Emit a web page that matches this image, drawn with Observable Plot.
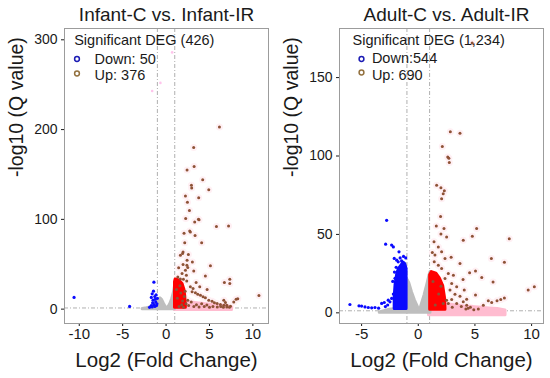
<!DOCTYPE html>
<html>
<head>
<meta charset="utf-8">
<script src="https://cdn.jsdelivr.net/npm/d3@7"></script>
<script src="https://cdn.jsdelivr.net/npm/@observablehq/plot@0.6"></script>
<style>
  body { margin: 0; background: #fff; }
  #chart { display: flex; width: 550px; height: 378px; }
</style>
</head>
<body>
<div id="chart"></div>
<script>
// ---------- DATA ----------
const titles = ["Infant-C vs. Infant-IR", "Adult-C vs. Adult-IR"];
const xLabel = "Log2 (Fold Change)";
const yLabel = "-log10 (Q value)";
const legendTitles = ["Significant DEG (426)", "Significant DEG (1,234)"];
const legendDown = ["Down: 50", "Down:544"];
const legendUp = ["Up: 376", "Up: 690"];
const fcCut = [-1, 1];
const qCut = [1.3];
const infXTicks = [-10, -5, 0, 5, 10];
const infYTicks = [0, 100, 200, 300];
const adXTicks = [-5, 0, 5, 10];
const adYTicks = [0, 50, 100, 150];

// Infant: up-regulated scattered genes [log2FC, -log10Q]
const infUp = [[6.15,203],[3.18,180],[3.23,159],[2.42,155],[4.22,144],[2.92,138],[2.95,135],[4.92,133],
  [2.23,126],[3.76,124],[2.46,119],[2.69,110],[2.26,101],[3.73,100],[3.3,97],[3.8,99.7],[5.8,92],[7.2,92.7],
  [2.8,86],[2.72,87],[2.07,84.5],[3.34,82],[4.1,74],[2.15,74],[1.96,63.7],[1.65,60],[2.57,60.8],[1.9,62],
  [2.42,54.5],[3.03,52.6],[5.11,48.2],[1.96,49.7],[2.4,49],[2.5,46.5],[1.45,46],[2.23,43.4],[3.19,42.6],
  [1.84,39.7],[2.34,37.8],[4.53,37],[1.35,35.7],[1.65,33.7],[2.0,33.2],[2.38,31.3],[3.46,29.7],[6.72,29.7],
  [7.34,33.4],[7.34,28.6],[3.88,24.8],[4.73,21.9],[3.11,23],[3.0,19.3],[3.38,18.2],[3.65,16.7],[3.96,15.6],
  [4.26,13.7],[4.53,12.6],[4.92,10],[5.3,8.9],[5.57,7],[5.88,6.3],[6.26,5.2],[6.65,4.4],[7.0,4.4],[7.42,3.3],
  [10.7,15.2],[8.07,11.1],[8.26,11.5],[7.8,8],[6.65,10],[6.84,7.4],
  [1.5,3],[1.8,5],[2.0,2],[2.3,6],[2.6,4],[2.9,8],[3.2,3],[3.5,5],[3.8,2.5],[4.1,6],[4.4,3],[4.7,4.5],
  [5.0,2],[5.4,3],[5.9,2.5],[6.3,3],[6.6,2],[7.0,2.5],[7.3,2],[1.3,12],[1.7,18],[2.1,14],[2.5,10],[2.8,25],
  [1.2,22],[1.9,9],[1.6,26],[2.2,20]];
// Infant: down-regulated genes
const infDown = [[-10.6,13],[-4.2,3],[-1.4,30],[-1.45,20],[-1.6,17],[-1.15,16],[-1.7,13],[-1.3,14],[-1.0,12],
  [-1.5,10],[-1.2,8],[-1.05,6],[-1.4,5],[-1.1,4],[-1.7,4],[-1.3,3],[-1.9,2],[-1.55,7],[-1.25,11],[-1.6,2.5]];
// Infant: faint light points
const infFaint = [[-1.6,243],[-0.65,252],[0.7,286]];
// Infant: dense clouds (outline of overplotted points: x, top)
const infGray = [[-2.7,0.3],[-2.2,1.0],[-1.8,1.8],[-1.4,3],[-1.1,6],[-0.85,10],[-0.65,12],[-0.45,10],[-0.25,6],
  [-0.05,2.5],[0.1,0.5],[0.3,2.5],[0.5,6],[0.7,11],[0.9,18],[1.02,25]];
const infRed = [[1.03,30],[1.1,33],[1.5,32],[1.9,28],[2.1,22],[2.2,15],[2.28,4]];
const infPink = [[1.0,9],[2,8],[3,7],[4,6],[5,5],[6,4],[7,3.5],[7.6,2]];

// Adult
const adUp = [[2.83,115.4],[3.68,114.5],[2.12,106],[2.6,99.4],[2.7,98.5],[2.74,95.8],[1.62,81.4],[2.0,79.7],
  [2.3,77.8],[2.2,76],[2.06,72.7],[1.97,61.4],[1.59,55.3],[2.27,53.8],[5.15,53.8],[2.5,48.4],[4.77,48.9],
  [3.97,46.3],[8.03,47.2],[2.0,50.2],[1.39,45.3],[1.77,42],[1.24,38.5],[1.47,36.8],[2.06,38.9],[2.9,35.5],
  [6.45,34.7],[7.6,32.2],[3.68,31.5],[1.41,32.5],[1.77,30.4],[2.06,28.3],[2.36,34.7],[2.65,25.1],[3.1,24],
  [2.36,21.9],[2.95,18.7],[3.39,16.6],[2.8,14.5],[3.24,11.9],[3.68,10.6],[2.95,8.5],[3.97,7],[3.39,6],
  [4.27,4.9],[2.65,6],[4.53,25.6],[5.05,26.6],[5.6,22.6],[3.95,21.3],[6.6,19.6],[9.7,14.5],[10.24,16.6],
  [5.05,11.3],[4.27,8.7],[4.06,14.5],[6.18,7.7],[6.48,6.6],[6.95,7.7],[7.28,8.5],[7.6,9.5],[5.74,4.9],
  [4.4,3],[4.6,3.5],[4.2,2.5],[5.3,2.5],[3.8,4],[2.5,8],[3.0,3.5],[4.9,2],[4.75,172],
  [1.3,20],[1.8,12],[2.2,6],[1.5,5],[2.0,17]];
const adDown = [[-2.79,59],[-2.88,43.8],[-2.35,43.2],[-2.2,42],[-1.7,38.9],[-2.12,34.7],[-1.9,33.6],[-1.77,32.5],
  [-1.47,33.1],[-6.03,5.3],[-5.23,4.5],[-5.0,4.3],[-4.7,3.8],[-4.41,3.4],[-4.11,3.2],[-3.82,3.4],[-3.5,3],
  [-3.23,6],[-3.0,6.6],[-2.65,8.1],[-2.35,9.2],[-2.9,4],[-2.7,5],[-2.5,7],[-2.2,12],[-2.25,20],[-2.1,26],
  [-1.3,36],[-1.1,35],[-1.6,35],[-1.95,29],[-2.05,22]];
const adGray = [[-3.4,0.3],[-3.0,1],[-2.5,2],[-2.0,2.5],[-1.5,4],[-1.2,10],[-1.02,22],[-0.8,19],[-0.55,13],
  [-0.3,8],[-0.05,4],[0.12,0.5],[0.3,5],[0.55,11],[0.8,18],[1.0,24],[1.08,26]];
const adBlue = [[-2.08,10],[-2.0,18],[-1.85,25],[-1.7,28],[-1.5,30],[-1.3,32],[-1.15,31],[-1.03,28]];
const adRed = [[1.05,24],[1.2,26],[1.6,25],[1.9,22],[2.2,17],[2.35,10],[2.4,3]];
const adPink = [[0.95,7],[2,6],[3,5],[4,4],[5,3.5],[6,3],[7,2.5],[7.7,1.5]];

// ---------- STYLE / LAYOUT ----------
const FONT = "'Liberation Sans', Arial, Helvetica, sans-serif";
const C = { gray: "#bebebe", red: "#ff0000", pink: "#ffbcd0", halo: "#fff0f4", blue: "#0a0aff", brown: "#8e5236",
            faint: "#ffc4ec", cut: "#9a9a9a", frame: "#9c9c9c", legDown: "#1c1cb4", legUp: "#93713f" };

const panels = [
  { title: titles[0], legT: legendTitles[0], legD: legendDown[0], legU: legendUp[0],
    xDomain: [-11.7, 11.8], yDomain: [-16, 312.6], xTicks: infXTicks, yTicks: infYTicks,
    up: infUp, down: infDown, faint: infFaint, gray: infGray, red: infRed, pink: infPink, blue: null,
    grayBase: 0, redBase: 1.5, pinkBase: -1, blueBase: 0,
    leg: { t: 9.7, m: 12.5, tx: 30, y0: 12.3, yd: 30.5, yu: 46.7, md: 30.5, mu: 45 }, titleDx: 0 },
  { title: titles[1], legT: legendTitles[1], legD: legendDown[1], legU: legendUp[1],
    xDomain: [-6.95, 11.05], yDomain: [-6.8, 181.3], xTicks: adXTicks, yTicks: adYTicks,
    up: adUp, down: adDown, faint: [], gray: adGray, red: adRed, pink: adPink, blue: adBlue,
    grayBase: 0, redBase: 2, pinkBase: -1.5, blueBase: 2.5,
    leg: { t: 13, m: 22, tx: 32.4, y0: 12.3, yd: 30.3, yu: 47, md: 30.5, mu: 44 }, titleDx: 5 }
];

function cloud(data, base, color) {
  return Plot.areaY(data, { x: d => d[0], y1: base, y2: d => d[1], fill: color,
    stroke: color, strokeWidth: 3, strokeLinejoin: "round" });
}

function makePanel(p) {
  const marks = [
    Plot.ruleX(fcCut, { stroke: C.cut, strokeDasharray: "4,2,1,2", strokeWidth: 0.8 }),
    Plot.ruleY(qCut, { stroke: C.cut, strokeDasharray: "4,2,1,2", strokeWidth: 0.8 }),
    Plot.dot(p.up, { x: d => d[0], y: d => d[1], r: 3.5, fill: C.halo }),
    cloud(p.pink, p.pinkBase, C.pink),
    cloud(p.gray, p.grayBase, C.gray),
  ];
  if (p.blue) marks.push(cloud(p.blue, p.blueBase, C.blue));
  marks.push(
    cloud(p.red, p.redBase, C.red),
    Plot.dot(p.down, { x: d => d[0], y: d => d[1], r: 1.6, fill: C.blue }),
    Plot.dot(p.up, { x: d => d[0], y: d => d[1], r: 1.5, fill: C.brown }),
    Plot.dot(p.faint, { x: d => d[0], y: d => d[1], r: 1.3, fill: C.faint }),
    Plot.axisX({ ticks: p.xTicks, tickSize: 3, tickPadding: 2, fontSize: 15, label: null, tickFormat: d => String(d) }),
    Plot.axisY({ ticks: p.yTicks, tickSize: 3, tickPadding: 4, fontSize: 14, label: null, tickFormat: d => String(d) }),
    Plot.frame({ stroke: C.frame, strokeWidth: 1 }),
    // titles & axis labels
    Plot.text([p.title], { text: d => d, frameAnchor: "top", dx: p.titleDx, dy: -13.5, fontSize: 19, lineAnchor: "middle" }),
    Plot.text([xLabel], { text: d => d, frameAnchor: "bottom", dy: 37, fontSize: 20.5, lineAnchor: "middle" }),
    Plot.text([yLabel], { text: d => d, frameAnchor: "left", dx: -48, dy: 1, rotate: -90, fontSize: 19.5, lineAnchor: "middle" }),
    // legend inside the panel
    Plot.text([p.legT], { text: d => d, frameAnchor: "top-left", textAnchor: "start", dx: p.leg.t, dy: p.leg.y0, fontSize: 14.5, lineAnchor: "middle" }),
    Plot.text([p.legD], { text: d => d, frameAnchor: "top-left", textAnchor: "start", dx: p.leg.tx, dy: p.leg.yd, fontSize: 14.5, lineAnchor: "middle" }),
    Plot.text([p.legU], { text: d => d, frameAnchor: "top-left", textAnchor: "start", dx: p.leg.tx, dy: p.leg.yu, fontSize: 14.5, lineAnchor: "middle" }),
    Plot.dot([p.legD], { frameAnchor: "top-left", dx: p.leg.m, dy: p.leg.md, r: 2.4, stroke: C.legDown, strokeWidth: 1.5, fill: "white" }),
    Plot.dot([p.legU], { frameAnchor: "top-left", dx: p.leg.m, dy: p.leg.mu, r: 2.4, stroke: C.legUp, strokeWidth: 1.5, fill: "white" })
  );
  return Plot.plot({
    width: 275, height: 378,
    marginLeft: 64, marginRight: 7, marginTop: 28, marginBottom: 55,
    x: { domain: p.xDomain },
    y: { domain: p.yDomain },
    style: { fontFamily: FONT, background: "white", color: "#1a1a1a", overflow: "visible" },
    marks
  });
}

const root = document.getElementById("chart");
panels.forEach(p => root.appendChild(makePanel(p)));
</script>
</body>
</html>
